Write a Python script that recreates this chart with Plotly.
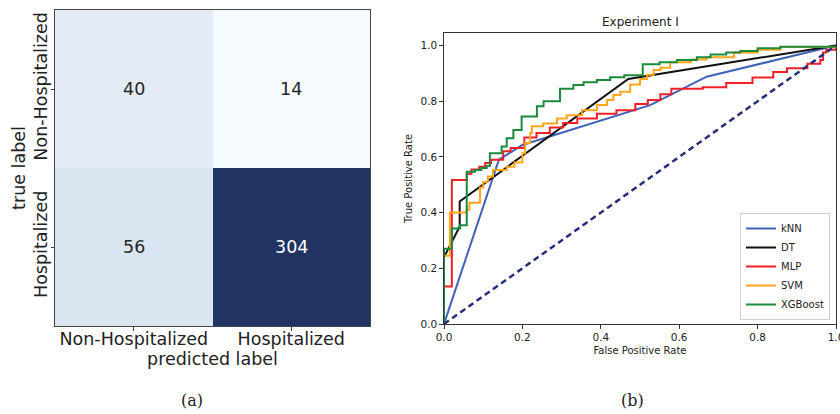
import plotly.graph_objects as go

# ---------------- data ----------------
cm_labels = ["Non-Hospitalized", "Hospitalized"]
cm_values = [[40, 14],
             [56, 304]]

knn_fpr = [0, 0.125, 0.14, 0.2, 0.33, 0.526, 0.67, 1.0]
knn_tpr = [0, 0.53, 0.59, 0.643, 0.70, 0.786, 0.888, 1.0]

dt_fpr = [0, 0, 0.04, 0.04, 0.47, 1.0]
dt_tpr = [0, 0.24, 0.35, 0.44, 0.88, 1.0]

mlp_fpr = [0, 0, 0.02, 0.058, 0.07, 0.09, 0.105, 0.12, 0.151, 0.17, 0.205, 0.236, 0.27, 0.304,
           0.34, 0.39, 0.44, 0.488, 0.52, 0.552, 0.58, 0.66, 0.72, 0.787, 0.84, 0.875, 0.927,
           0.96, 0.967, 0.975, 1.0]
mlp_tpr = [0, 0.135, 0.517, 0.54, 0.555, 0.565, 0.578, 0.59, 0.62, 0.632, 0.67, 0.686, 0.706, 0.722,
           0.738, 0.755, 0.768, 0.79, 0.804, 0.825, 0.845, 0.85, 0.865, 0.885, 0.905, 0.918, 0.935,
           0.948, 0.975, 0.985, 1.0]

svm_fpr = [0, 0, 0.015, 0.058, 0.065, 0.092, 0.1, 0.112, 0.125, 0.16, 0.18, 0.2, 0.207, 0.22,
           0.224, 0.253, 0.288, 0.313, 0.352, 0.39, 0.416, 0.432, 0.45, 0.475, 0.5, 0.518, 0.535,
           0.552, 0.577, 0.63, 0.67, 0.74, 0.8, 0.858, 1.0]
svm_tpr = [0, 0.245, 0.40, 0.41, 0.435, 0.49, 0.51, 0.53, 0.553, 0.565, 0.58, 0.613, 0.65, 0.686,
           0.71, 0.72, 0.738, 0.75, 0.768, 0.786, 0.804, 0.822, 0.834, 0.86, 0.88, 0.895, 0.912,
           0.92, 0.94, 0.95, 0.958, 0.975, 0.985, 0.995, 1.0]

xgb_fpr = [0, 0, 0.02, 0.041, 0.058, 0.079, 0.095, 0.109, 0.117, 0.147, 0.16, 0.177, 0.198, 0.237,
           0.254, 0.296, 0.33, 0.356, 0.39, 0.424, 0.46, 0.507, 0.55, 0.594, 0.645, 0.68, 0.72,
           0.756, 0.8, 0.858, 1.0]
xgb_tpr = [0, 0.27, 0.343, 0.355, 0.547, 0.553, 0.56, 0.567, 0.613, 0.637, 0.667, 0.697, 0.745, 0.782,
           0.8, 0.845, 0.858, 0.868, 0.876, 0.886, 0.893, 0.933, 0.94, 0.948, 0.958, 0.968, 0.975,
           0.98, 0.99, 0.996, 1.0]

chance = [0, 1]

# ---------------- figure ----------------
W, H = 840, 414
def px_x(p): return p / W
def px_y(p): return 1 - p / H

fig = go.Figure()

# confusion matrix heatmap
cm_scale = [[0.0, "#f5fafe"], [(40 - 14) / 290, "#e3ebf6"], [(56 - 14) / 290, "#d9e6f2"],
            [0.45, "#8fb4d8"], [1.0, "#213361"]]
fig.add_trace(go.Heatmap(
    z=cm_values, x=cm_labels, y=cm_labels, colorscale=cm_scale, showscale=False,
    zmin=14, zmax=304, xgap=0, ygap=0,
    xaxis="x", yaxis="y", hoverinfo="skip"))

zmid = (14 + 304) / 2
for i, row in enumerate(cm_values):
    for j, v in enumerate(row):
        fig.add_annotation(x=cm_labels[j], y=cm_labels[i], xref="x", yref="y", text=str(v),
                           showarrow=False,
                           font=dict(size=17.5, family="DejaVu Sans",
                                     color="white" if v > zmid else "#262626"))

curves = [
    ("kNN", knn_fpr, knn_tpr, "#4062b8", "linear"),
    ("DT", dt_fpr, dt_tpr, "#111111", "linear"),
    ("MLP", mlp_fpr, mlp_tpr, "#f0202a", "hv"),
    ("SVM", svm_fpr, svm_tpr, "#ffa51c", "hv"),
    ("XGBoost", xgb_fpr, xgb_tpr, "#1b8a3c", "hv"),
]
for name, xs, ys, col, shape in curves:
    fig.add_trace(go.Scatter(x=xs, y=ys, mode="lines", name=name,
                             line=dict(color=col, width=2, shape=shape),
                             xaxis="x2", yaxis="y2"))
fig.add_trace(go.Scatter(x=chance, y=chance, mode="lines", showlegend=False,
                         line=dict(color="#2a2e7a", width=2.5, dash="6px,4px"),
                         xaxis="x2", yaxis="y2"))

axis_col = "#333333"
fig.update_layout(
    width=W, height=H, margin=dict(l=0, r=0, t=0, b=0, autoexpand=False),
    paper_bgcolor="white", plot_bgcolor="white",
    font=dict(family="DejaVu Sans", color="#222222"),
    xaxis=dict(domain=[px_x(55), px_x(370)], anchor="y", showgrid=False, zeroline=False,
               showline=True, mirror=True, linecolor="#444", linewidth=1,
               ticks="outside", ticklen=3.5, tickcolor="#444", ticklabelstandoff=-7,
               tickfont=dict(size=17.5), title=dict(text="predicted label", font=dict(size=17.5), standoff=0)),
    yaxis=dict(domain=[px_y(326), px_y(10)], anchor="x", autorange="reversed", showgrid=False,
               zeroline=False, showline=True, mirror=True, linecolor="#444", linewidth=1,
               ticks="outside", ticklen=3.5, tickcolor="#444", tickangle=-90, ticklabelstandoff=-3,
               tickfont=dict(size=17.5), title=dict(text="true label", font=dict(size=17.5), standoff=0)),
    xaxis2=dict(domain=[px_x(444), px_x(836)], anchor="y2", range=[0, 1], showgrid=False,
                zeroline=False, showline=True, mirror=True, linecolor=axis_col, linewidth=1.3,
                ticks="outside", ticklen=3.5, tickcolor=axis_col, ticklabeloverflow="allow",
                automargin=False,
                tickvals=[0, 0.2, 0.4, 0.6, 0.8, 1.0], ticktext=["0.0", "0.2", "0.4", "0.6", "0.8", "1.0"],
                tickfont=dict(size=10.5), title=dict(text="False Positive Rate", font=dict(size=10), standoff=4)),
    yaxis2=dict(domain=[px_y(324), px_y(33)], anchor="x2", range=[0, 1.045], showgrid=False,
                zeroline=False, showline=True, mirror=True, linecolor=axis_col, linewidth=1.3,
                ticks="outside", ticklen=3.5, tickcolor=axis_col,
                tickvals=[0, 0.2, 0.4, 0.6, 0.8, 1.0], ticktext=["0.0", "0.2", "0.4", "0.6", "0.8", "1.0"],
                tickfont=dict(size=10.5), title=dict(text="True Positive Rate", font=dict(size=10), standoff=6)),
    legend=dict(x=px_x(830), y=px_y(320), xanchor="right", yanchor="bottom",
                bgcolor="rgba(255,255,255,0.85)", bordercolor="#d0d0d0", borderwidth=1,
                font=dict(size=10), tracegroupgap=0, itemwidth=30),
    showlegend=True,
)

fig.add_annotation(text="Experiment I", x=px_x(640), y=px_y(22), xref="paper", yref="paper",
                   showarrow=False, font=dict(size=12, color="#222"), xanchor="center", yanchor="middle")
fig.add_annotation(text="(a)", x=px_x(192), y=px_y(400), xref="paper", yref="paper",
                   showarrow=False, font=dict(size=16, family="DejaVu Serif", color="#222"),
                   xanchor="center", yanchor="middle")
fig.add_annotation(text="(b)", x=px_x(632), y=px_y(400), xref="paper", yref="paper",
                   showarrow=False, font=dict(size=16, family="DejaVu Serif", color="#222"),
                   xanchor="center", yanchor="middle")

fig.write_html("out.html")
